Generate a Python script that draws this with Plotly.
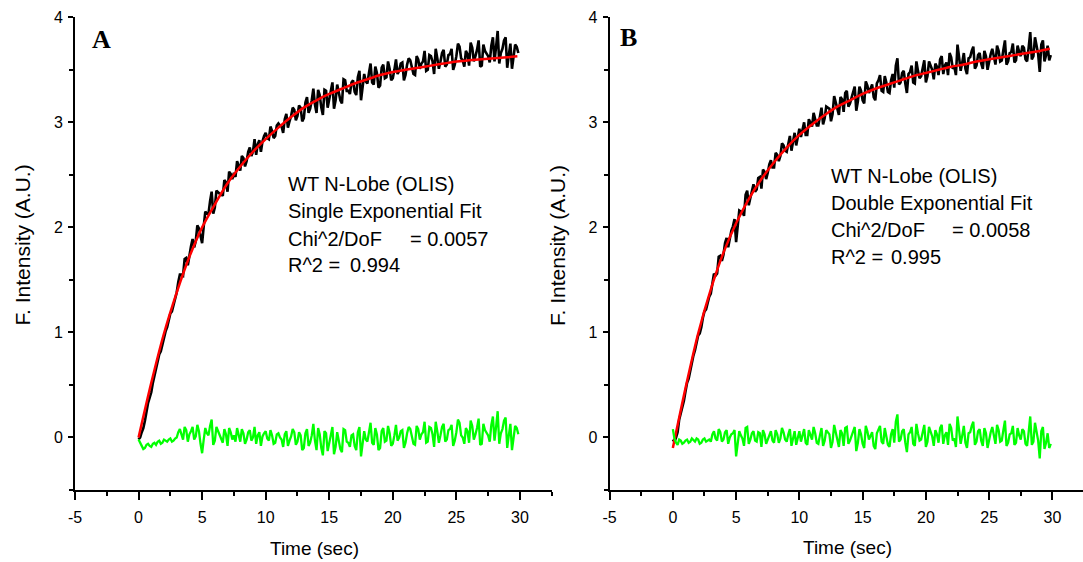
import plotly.graph_objects as go

W, H = 1083, 562

# ---------------- data ----------------
# samples on the quarter second and the samples half-way between them (s)
time_q = [round(0.25 * i, 3) for i in range(120)]
time_m = [round(0.25 * i + 0.125, 3) for i in range(120)]

# fitted curves (red)
fit_time = [0, 1, 2, 3, 4, 5, 6, 7, 8, 9, 10, 11, 12, 13, 14, 15, 16, 17, 18, 19,
            20, 21, 22, 23, 24, 25, 26, 27, 28, 29, 29.8]
fit_a = [0.00, 0.52, 0.99, 1.38, 1.72, 2.00, 2.22, 2.42, 2.58, 2.72, 2.84, 2.95,
         3.05, 3.14, 3.21, 3.27, 3.32, 3.37, 3.41, 3.45, 3.48, 3.50, 3.52, 3.54,
         3.56, 3.58, 3.59, 3.60, 3.61, 3.62, 3.63]
fit_b = [-0.10, 0.47, 0.99, 1.41, 1.76, 2.04, 2.27, 2.46, 2.62, 2.76, 2.88, 2.98,
         3.07, 3.15, 3.21, 3.27, 3.32, 3.36, 3.40, 3.44, 3.47, 3.50, 3.53, 3.55,
         3.58, 3.60, 3.62, 3.64, 3.66, 3.68, 3.70]

# measured fluorescence (black), panel A
data_a_q = [-0.02, 0.05, 0.16, 0.33, 0.43, 0.59, 0.72, 0.82, 0.97, 1.05, 1.18, 1.26, 1.38,
            1.55, 1.54, 1.71, 1.75, 1.89, 1.87, 1.99, 1.85, 2.15, 2.13, 2.34, 2.19, 2.33,
            2.32, 2.45, 2.34, 2.51,
            2.52, 2.63, 2.54, 2.66, 2.63, 2.76, 2.72, 2.69, 2.83, 2.82, 2.90, 2.84, 2.92,
            2.87, 2.99, 2.96, 3.03, 2.95, 3.06, 3.12, 3.06,
            3.14, 3.04, 3.24, 3.13, 3.32, 3.09, 3.26, 3.07, 3.30, 3.21, 3.38, 3.21, 3.29,
            3.18, 3.40, 3.30, 3.38, 3.29, 3.43, 3.21, 3.46,
            3.37, 3.56, 3.36, 3.47, 3.35, 3.55, 3.43, 3.51, 3.42, 3.60, 3.49, 3.57, 3.45,
            3.61, 3.53, 3.45, 3.60, 3.56, 3.68, 3.50,
            3.63, 3.46, 3.61, 3.58, 3.69, 3.55, 3.65, 3.50, 3.63, 3.72, 3.59, 3.68, 3.54,
            3.71, 3.63, 3.78, 3.54, 3.68, 3.63, 3.73,
            3.58, 3.87, 3.66, 3.78, 3.52, 3.75, 3.64, 3.72]
data_a_m = [0.00, 0.09, 0.26, 0.38, 0.52, 0.63, 0.79, 0.89, 1.01, 1.12, 1.20, 1.33, 1.48,
            1.55, 1.70, 1.64, 1.82, 1.81, 2.02, 1.91, 2.01, 2.13, 2.25, 2.13, 2.35, 2.32,
            2.30, 2.43, 2.53, 2.46,
            2.48, 2.59, 2.68, 2.58, 2.72, 2.68, 2.84, 2.79, 2.72, 2.87, 2.85, 2.96, 2.85,
            2.97, 2.97, 2.90, 3.08, 3.01, 3.14, 3.02, 3.16,
            3.01, 3.19, 3.09, 3.21, 3.17, 3.31, 3.14, 3.31, 3.14, 3.28, 3.13, 3.36, 3.21,
            3.41, 3.30, 3.27, 3.40, 3.26, 3.49, 3.33, 3.39,
            3.47, 3.38, 3.53, 3.33, 3.52, 3.42, 3.58, 3.40, 3.50, 3.46, 3.56, 3.40, 3.55,
            3.59, 3.46, 3.63, 3.51, 3.58, 3.49, 3.64,
            3.58, 3.70, 3.51, 3.66, 3.53, 3.64, 3.70, 3.55, 3.75, 3.61, 3.53, 3.65, 3.76,
            3.58, 3.69, 3.53, 3.74, 3.65, 3.57, 3.81,
            3.72, 3.56, 3.70, 3.81, 3.64, 3.51, 3.74, 3.66]

# measured fluorescence (black), panel B
data_b_q = [-0.02, 0.00, 0.17, 0.27, 0.44, 0.56, 0.73, 0.83, 0.97, 1.05, 1.20, 1.28, 1.37,
            1.56, 1.56, 1.73, 1.74, 1.90, 1.90, 2.01, 1.86, 2.16, 2.15, 2.31, 2.21, 2.36,
            2.34, 2.47, 2.37, 2.53,
            2.52, 2.64, 2.57, 2.69, 2.68, 2.78, 2.72, 2.87, 2.82, 2.78, 2.94, 2.93, 2.88,
            3.03, 2.96, 3.04, 2.97, 3.14, 3.04, 3.14, 3.01,
            3.25, 3.11, 3.24, 3.10, 3.30, 3.18, 3.29, 3.11, 3.34, 3.21, 3.39, 3.28, 3.36,
            3.21, 3.40, 3.30, 3.44, 3.29, 3.40, 3.33, 3.61,
            3.38, 3.49, 3.28, 3.48, 3.38, 3.58, 3.42, 3.52, 3.38, 3.58, 3.50, 3.56, 3.45,
            3.63, 3.54, 3.45, 3.62, 3.53, 3.74, 3.49,
            3.66, 3.46, 3.62, 3.72, 3.54, 3.66, 3.51, 3.63, 3.58, 3.70, 3.55, 3.68, 3.59,
            3.78, 3.58, 3.67, 3.57, 3.73, 3.63, 3.71,
            3.58, 3.86, 3.63, 3.74, 3.48, 3.78, 3.64, 3.59]
data_b_m = [-0.04, 0.05, 0.23, 0.35, 0.52, 0.64, 0.78, 0.92, 0.99, 1.14, 1.22, 1.34, 1.49,
            1.54, 1.72, 1.68, 1.85, 1.81, 1.97, 2.08, 2.02, 2.15, 2.11, 2.35, 2.28, 2.41,
            2.36, 2.48, 2.55, 2.46,
            2.60, 2.57, 2.71, 2.63, 2.80, 2.73, 2.81, 2.73, 2.90, 2.88, 2.86, 3.00, 2.88,
            3.00, 3.09, 2.97, 3.06, 2.98, 3.15, 3.13, 3.08,
            3.19, 3.07, 3.22, 3.28, 3.15, 3.24, 3.34, 3.20, 3.30, 3.18, 3.35, 3.32, 3.24,
            3.37, 3.45, 3.29, 3.38, 3.28, 3.46, 3.54, 3.36,
            3.47, 3.37, 3.46, 3.54, 3.37, 3.49, 3.44, 3.59, 3.44, 3.54, 3.41, 3.53, 3.60,
            3.46, 3.57, 3.66, 3.51, 3.45, 3.62, 3.57,
            3.51, 3.61, 3.68, 3.51, 3.64, 3.56, 3.68, 3.50, 3.65, 3.63, 3.73, 3.58, 3.69,
            3.55, 3.66, 3.75, 3.59, 3.67, 3.73, 3.60,
            3.71, 3.60, 3.81, 3.65, 3.74, 3.58, 3.73, 3.64]

# residuals (green), panel A
resid_a_q = [-0.02, -0.08, -0.10, -0.06, -0.09, -0.05, -0.04, -0.06, -0.02, -0.04, -0.01, -0.03, 0.00,
             0.08, -0.02, 0.07, 0.03, 0.10, 0.01, 0.06, -0.15, 0.09, 0.02, 0.17, -0.03, 0.06,
             0.00, 0.08, -0.08, 0.05,
             0.02, 0.09, -0.04, 0.04, -0.02, 0.07, 0.00, -0.06, 0.05, 0.01, 0.06, -0.03, 0.02,
             -0.05, 0.04, -0.02, 0.03, -0.08, 0.01, 0.05, -0.04,
             0.02, -0.10, 0.08, -0.05, 0.13, -0.12, 0.03, -0.17, 0.04, -0.06, 0.10, -0.09, -0.02,
             -0.14, 0.07, -0.05, 0.02, -0.08, 0.05, -0.18, 0.06,
             -0.04, 0.14, -0.07, 0.03, -0.10, 0.09, -0.03, 0.04, -0.06, 0.12, 0.00, 0.07, -0.05,
             0.10, 0.02, -0.07, 0.08, 0.03, 0.15, -0.04,
             0.09, -0.09, 0.06, 0.02, 0.13, -0.02, 0.08, -0.08, 0.05, 0.14, 0.00, 0.09, -0.05,
             0.11, 0.03, 0.18, -0.06, 0.07, 0.02, 0.12,
             -0.03, 0.25, 0.04, 0.16, -0.10, 0.13, 0.01, 0.09]
resid_a_m = [-0.06, -0.11, -0.07, -0.08, -0.06, -0.07, -0.03, -0.05, -0.03, -0.02, -0.04, -0.01, 0.05,
             0.03, 0.10, -0.04, 0.06, -0.02, 0.12, -0.06, -0.02, 0.04, 0.11, -0.07, 0.10, 0.02,
             -0.05, 0.03, 0.09, -0.02,
             -0.04, 0.03, 0.08, -0.06, 0.05, -0.03, 0.10, 0.02, -0.08, 0.04, -0.01, 0.07, -0.06,
             0.03, 0.00, -0.09, 0.06, -0.03, 0.08, -0.07, 0.05,
             -0.12, 0.04, -0.08, 0.02, -0.03, 0.09, -0.10, 0.06, -0.13, 0.00, -0.16, 0.05, -0.11,
             0.08, -0.04, -0.09, 0.03, -0.12, 0.10, -0.07, -0.02,
             0.05, -0.05, 0.09, -0.12, 0.06, -0.04, 0.11, -0.08, 0.02, -0.03, 0.06, -0.10, 0.04,
             0.08, -0.06, 0.11, -0.02, 0.05, -0.05, 0.10,
             0.03, 0.15, -0.05, 0.10, -0.04, 0.07, 0.12, -0.03, 0.17, 0.02, -0.06, 0.06, 0.16,
             -0.02, 0.09, -0.07, 0.13, 0.04, -0.04, 0.20,
             0.10, -0.06, 0.08, 0.19, 0.02, -0.12, 0.11, 0.03]

# residuals (green), panel B
resid_b_q = [0.08, -0.05, -0.02, -0.06, -0.03, -0.05, -0.01, -0.04, -0.02, -0.05, -0.01, -0.03, -0.04,
             0.06, -0.03, 0.05, -0.02, 0.07, 0.00, 0.04, -0.18, 0.06, -0.01, 0.09, -0.06, 0.04,
             -0.03, 0.05, -0.09, 0.03,
             -0.02, 0.06, -0.05, 0.03, -0.01, 0.05, -0.04, 0.08, 0.00, -0.07, 0.06, 0.02, -0.05,
             0.07, -0.02, 0.04, -0.06, 0.09, -0.03, 0.05, -0.10,
             0.12, -0.04, 0.07, -0.08, 0.10, -0.03, 0.06, -0.13, 0.08, -0.06, 0.11, -0.02, 0.05,
             -0.11, 0.07, -0.04, 0.09, -0.07, 0.03, -0.05, 0.22,
             -0.02, 0.08, -0.14, 0.05, -0.06, 0.13, -0.03, 0.06, -0.09, 0.10, 0.01, 0.07, -0.05,
             0.12, 0.02, -0.07, 0.09, -0.01, 0.20, -0.06,
             0.11, -0.10, 0.05, 0.15, -0.04, 0.08, -0.08, 0.04, -0.02, 0.10, -0.06, 0.07, -0.03,
             0.16, -0.05, 0.04, -0.07, 0.09, -0.02, 0.06,
             -0.08, 0.20, -0.04, 0.07, -0.20, 0.10, -0.05, -0.10]
resid_b_m = [-0.01, -0.07, -0.03, -0.05, -0.02, -0.04, -0.03, -0.01, -0.06, -0.02, -0.04, -0.02, 0.03,
             -0.01, 0.08, -0.04, 0.05, -0.06, 0.03, 0.07, -0.05, 0.02, -0.08, 0.10, -0.02, 0.06,
             -0.04, 0.04, 0.07, -0.06,
             0.04, -0.03, 0.07, -0.05, 0.09, -0.02, 0.03, -0.08, 0.06, 0.01, -0.04, 0.08, -0.07,
             0.03, 0.10, -0.05, 0.02, -0.08, 0.07, 0.03, -0.04,
             0.05, -0.09, 0.04, 0.09, -0.06, 0.02, 0.10, -0.05, 0.03, -0.10, 0.06, 0.01, -0.08,
             0.04, 0.11, -0.06, 0.02, -0.09, 0.08, 0.15, -0.04,
             0.06, -0.05, 0.03, 0.10, -0.08, 0.04, -0.02, 0.12, -0.04, 0.05, -0.08, 0.03, 0.09,
             -0.06, 0.05, 0.13, -0.03, -0.09, 0.07, 0.02,
             -0.05, 0.04, 0.11, -0.07, 0.06, -0.03, 0.09, -0.10, 0.05, 0.02, 0.12, -0.04, 0.07,
             -0.08, 0.03, 0.11, -0.05, 0.02, 0.08, -0.06,
             0.05, -0.07, 0.14, -0.03, 0.06, -0.11, 0.04, -0.06]

# tick labels
x_ticks = [-5, 0, 5, 10, 15, 20, 25, 30]
x_minor = [-2.5, 2.5, 7.5, 12.5, 17.5, 22.5, 27.5, 32.5]
y_ticks = [0, 1, 2, 3, 4]
y_minor = [-0.5, 0.5, 1.5, 2.5, 3.5]

panel_letters = ["A", "B"]
fit_names = ["Single Exponential Fit", "Double Exponential Fit"]
chi_values = ["= 0.0057", "= 0.0058"]
r2_values = ["0.994", "0.995"]


def in_time_order(tq, vq, tm, vm):
    """Put the on-grid and half-way samples of one trace into time order."""
    pairs = sorted(zip(tq + tm, vq + vm))
    return [p[0] for p in pairs], [p[1] for p in pairs]


# ---------------- figure ----------------
FONT = "Liberation Sans, Arial, sans-serif"
fig = go.Figure()

panels = [(data_a_q, data_a_m, fit_a, resid_a_q, resid_a_m),
          (data_b_q, data_b_m, fit_b, resid_b_q, resid_b_m)]
for i, (dq, dm, f, rq, rm) in enumerate(panels):
    xa = "x" if i == 0 else "x2"
    ya = "y" if i == 0 else "y2"
    td, vd = in_time_order(time_q, dq, time_m, dm)
    tr, vr = in_time_order(time_q, rq, time_m, rm)
    fig.add_trace(go.Scatter(x=td, y=vd, mode="lines", xaxis=xa, yaxis=ya,
                             line=dict(color="black", width=2.6), showlegend=False))
    fig.add_trace(go.Scatter(x=fit_time, y=f, mode="lines", xaxis=xa, yaxis=ya,
                             line=dict(color="#ff0000", width=2.5, shape="spline", smoothing=0.8),
                             showlegend=False))
    fig.add_trace(go.Scatter(x=tr, y=vr, mode="lines", xaxis=xa, yaxis=ya,
                             line=dict(color="#00ff00", width=2.3), showlegend=False))


def xaxis(domain, rng, anchor):
    return dict(domain=domain, range=rng, anchor=anchor, showline=True, linewidth=2,
                linecolor="black", ticks="outside", ticklen=8, tickwidth=2, tickcolor="black",
                tickvals=x_ticks, ticktext=[str(v) for v in x_ticks],
                tickfont=dict(family=FONT, size=16, color="black"),
                minor=dict(tickvals=x_minor, ticklen=4, tickwidth=2, tickcolor="black",
                           ticks="outside", showgrid=False),
                showgrid=False, zeroline=False, automargin=False, ticklabelstandoff=4,
                fixedrange=True)


def yaxis(domain, anchor):
    return dict(domain=domain, range=[-0.5, 4], anchor=anchor, showline=True, linewidth=2,
                linecolor="black", ticks="outside", ticklen=5, tickwidth=2, tickcolor="black",
                tickvals=y_ticks, ticktext=[str(v) for v in y_ticks],
                tickfont=dict(family=FONT, size=16, color="black"),
                minor=dict(tickvals=y_minor, ticklen=4, tickwidth=2, tickcolor="black",
                           ticks="outside", showgrid=False),
                showgrid=False, zeroline=False, automargin=False, ticklabelstandoff=2,
                fixedrange=True)


ydom = [1 - 490 / H, 1 - 17.3 / H]
fig.update_layout(
    width=W, height=H, template="none",
    margin=dict(l=0, r=0, t=0, b=0, pad=0),
    paper_bgcolor="white", plot_bgcolor="white",
    xaxis=xaxis([75 / W, 551.7 / W], [-5, 32.5], "y"),
    yaxis=yaxis(ydom, "x"),
    xaxis2=xaxis([609.6 / W, 1.0], [-5, 32.42], "y2"),
    yaxis2=yaxis(ydom, "x2"),
)


def px(x):
    return x / W


def py(y):
    return 1 - y / H


ann = []
text_left = [287.5, 831.0]
line_centres = [[184, 211.3, 239, 264.7], [175.7, 203, 230, 257.3]]
chi_x = [409.8, 951.5]
r2_x = [349.5, 891.0]
letter_pos = [(101.6, 40), (628.7, 37.5)]
xtitle_pos = [(314.2, 548), (847.3, 547.5)]
ytitle_pos = [(22.4, 245), (557.0, 246)]

for i in range(2):
    tf = dict(family=FONT, size=20, color="black")
    lines = ["WT N-Lobe (OLIS)", fit_names[i], "Chi^2/DoF", "R^2 ="]
    for k, t in enumerate(lines):
        ann.append(dict(x=px(text_left[i] - 2), y=py(line_centres[i][k]), xref="paper", yref="paper",
                        text=t, showarrow=False, xanchor="left", yanchor="middle", font=tf))
    ann.append(dict(x=px(chi_x[i] - 2), y=py(line_centres[i][2]), xref="paper", yref="paper",
                    text=chi_values[i], showarrow=False, xanchor="left", yanchor="middle", font=tf))
    ann.append(dict(x=px(r2_x[i] - 2), y=py(line_centres[i][3]), xref="paper", yref="paper",
                    text=r2_values[i], showarrow=False, xanchor="left", yanchor="middle", font=tf))
    ann.append(dict(x=px(letter_pos[i][0]), y=py(letter_pos[i][1]), xref="paper", yref="paper",
                    text="<b>" + panel_letters[i] + "</b>", showarrow=False,
                    xanchor="center", yanchor="middle",
                    font=dict(family="Liberation Serif, Times New Roman, serif", size=26, color="black")))
    ann.append(dict(x=px(xtitle_pos[i][0]), y=py(xtitle_pos[i][1]), xref="paper", yref="paper",
                    text="Time (sec)", showarrow=False, xanchor="center", yanchor="middle",
                    font=dict(family=FONT, size=19, color="black")))
    ann.append(dict(x=px(ytitle_pos[i][0]), y=py(ytitle_pos[i][1]), xref="paper", yref="paper",
                    text="F. Intensity (A.U.)", showarrow=False, xanchor="center", yanchor="middle",
                    textangle=-90, font=dict(family=FONT, size=21, color="black")))

fig.update_layout(annotations=ann)
fig.write_html("out.html", config={"displayModeBar": False, "staticPlot": True},
               post_script="document.body.style.margin='0px';document.body.style.overflow='hidden';")
